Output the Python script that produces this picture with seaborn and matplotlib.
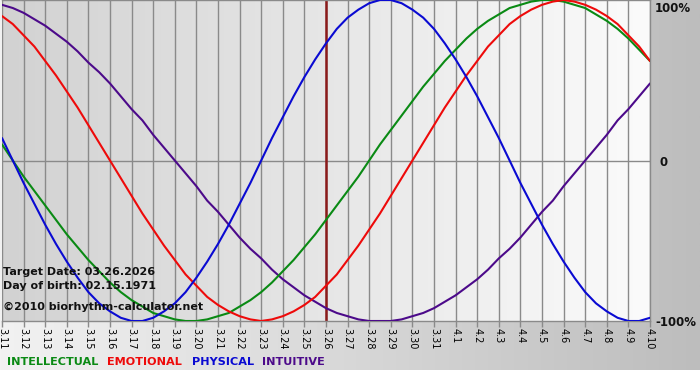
import numpy as np
import pandas as pd
import seaborn as sns
from matplotlib import pyplot as plt
from matplotlib.colors import LinearSegmentedColormap

dates = ["3.11", "3.12", "3.13", "3.14", "3.15", "3.16", "3.17", "3.18", "3.19", "3.20",
         "3.21", "3.22", "3.23", "3.24", "3.25", "3.26", "3.27", "3.28", "3.29", "3.30",
         "3.31", "4.1", "4.2", "4.3", "4.4", "4.5", "4.6", "4.7", "4.8", "4.9", "4.10"]

# values every half day, 3.11 .. 4.10 (-1 = -100%, 1 = 100%)
sample_days = np.arange(0, len(dates) - 0.5, 0.5)
intellectual = [0.10, 0.00, -0.10, -0.19, -0.28, -0.37, -0.46, -0.54, -0.62, -0.69,
                -0.76, -0.82, -0.87, -0.91, -0.95, -0.97, -0.99, -1.00, -1.00, -0.99,
                -0.97, -0.95, -0.91, -0.87, -0.82, -0.76, -0.69, -0.62, -0.54, -0.46,
                -0.37, -0.28, -0.19, -0.10, 0.00, 0.10, 0.19, 0.28, 0.37, 0.46,
                0.54, 0.62, 0.69, 0.76, 0.82, 0.87, 0.91, 0.95, 0.97, 0.99,
                1.00, 1.00, 0.99, 0.97, 0.95, 0.91, 0.87, 0.82, 0.76, 0.69, 0.62]
emotional = [0.90, 0.85, 0.78, 0.71, 0.62, 0.53, 0.43, 0.33, 0.22, 0.11,
             0.00, -0.11, -0.22, -0.33, -0.43, -0.53, -0.62, -0.71, -0.78, -0.85,
             -0.90, -0.94, -0.97, -0.99, -1.00, -0.99, -0.97, -0.94, -0.90, -0.85,
             -0.78, -0.71, -0.62, -0.53, -0.43, -0.33, -0.22, -0.11, 0.00, 0.11,
             0.22, 0.33, 0.43, 0.53, 0.62, 0.71, 0.78, 0.85, 0.90, 0.94,
             0.97, 0.99, 1.00, 0.99, 0.97, 0.94, 0.90, 0.85, 0.78, 0.71, 0.62]
physical = [0.14, 0.00, -0.14, -0.27, -0.40, -0.52, -0.63, -0.73, -0.82, -0.89,
            -0.94, -0.98, -1.00, -1.00, -0.98, -0.94, -0.89, -0.82, -0.73, -0.63,
            -0.52, -0.40, -0.27, -0.14, 0.00, 0.14, 0.27, 0.40, 0.52, 0.63,
            0.73, 0.82, 0.89, 0.94, 0.98, 1.00, 1.00, 0.98, 0.94, 0.89,
            0.82, 0.73, 0.63, 0.52, 0.40, 0.27, 0.14, 0.00, -0.14, -0.27,
            -0.40, -0.52, -0.63, -0.73, -0.82, -0.89, -0.94, -0.98, -1.00, -1.00, -0.98]
intuitive = [0.97, 0.95, 0.92, 0.88, 0.84, 0.79, 0.74, 0.68, 0.61, 0.55,
             0.48, 0.40, 0.32, 0.25, 0.16, 0.08, 0.00, -0.08, -0.16, -0.25,
             -0.32, -0.40, -0.48, -0.55, -0.61, -0.68, -0.74, -0.79, -0.84, -0.88,
             -0.92, -0.95, -0.97, -0.99, -1.00, -1.00, -1.00, -0.99, -0.97, -0.95,
             -0.92, -0.88, -0.84, -0.79, -0.74, -0.68, -0.61, -0.55, -0.48, -0.40,
             -0.32, -0.25, -0.16, -0.08, 0.00, 0.08, 0.16, 0.25, 0.32, 0.40, 0.48]

series_names = ["INTUITIVE", "INTELLECTUAL", "EMOTIONAL", "PHYSICAL"]
colors = {"INTELLECTUAL": "#0a8a14", "EMOTIONAL": "#ee0a0a",
          "PHYSICAL": "#0a0ad2", "INTUITIVE": "#4c0a8a"}
legend_order = ["INTELLECTUAL", "EMOTIONAL", "PHYSICAL", "INTUITIVE"]
legend_x = [7, 107, 192, 262]
target_index = dates.index("3.26")

info_lines = ["Target Date: 03.26.2026", "Day of birth: 02.15.1971", "\u00a92010 biorhythm-calculator.net"]
info_y = [272, 286, 307]

values = {"INTELLECTUAL": intellectual, "EMOTIONAL": emotional,
          "PHYSICAL": physical, "INTUITIVE": intuitive}
df = pd.concat(
    [pd.DataFrame({"day": sample_days, "value": values[name], "series": name})
     for name in series_names],
    ignore_index=True,
)

sns.set_theme(style="white")
plt.rcParams["font.family"] = ["DejaVu Sans"]

W, H = 700, 380
fig = plt.figure(figsize=(W / 100, H / 100), dpi=100)
fig.patch.set_facecolor("white")

# outer background: light on the left, darker on the right
bg = fig.add_axes([0, 10 / H, 1, 370 / H])
bg.axis("off")
outer_cmap = LinearSegmentedColormap.from_list("outer", ["#f2f2f2", "#bdbdbd"])
bg.imshow(np.linspace(0, 1, 256)[None, :], aspect="auto", cmap=outer_cmap, extent=[0, 1, 0, 1])

ax = fig.add_axes([2 / W, 59 / H, 648 / W, 321 / H])
inner_cmap = LinearSegmentedColormap.from_list("inner", ["#d2d2d2", "#fbfbfb"])
ax.imshow(np.linspace(0, 1, 256)[None, :], aspect="auto", cmap=inner_cmap,
          extent=[0, len(dates) - 1, -1, 1], zorder=0)

for i in range(len(dates)):
    ax.axvline(i, color="#8a8a8a", lw=1, zorder=1)
ax.axhline(0, color="#8a8a8a", lw=1, zorder=1)
ax.axvline(target_index, color="#8b1a1a", lw=1.8, zorder=2)

sns.lineplot(data=df, x="day", y="value", hue="series", hue_order=series_names,
             palette=colors, linewidth=1.5, legend=False, sort=False, ax=ax, zorder=3)

ax.set_xlim(0, len(dates) - 1)
ax.set_ylim(-1, 1)
ax.set_xlabel("")
ax.set_ylabel("")
ax.set_yticks([])
ax.set_xticks(range(len(dates)))
ax.set_xticklabels(dates, rotation=270, fontsize=7, color="black")
ax.tick_params(axis="x", length=4, width=1, color="#8a8a8a", pad=1, bottom=True)
for side in ["top", "bottom", "left", "right"]:
    ax.spines[side].set_color("#8a8a8a")
    ax.spines[side].set_linewidth(1)
ax.spines["left"].set_visible(False)

for text, y in zip(["100%", "0", "-100%"], [9, 162, 322]):
    x = 660 if text == "0" else 655
    fig.text(x / W, 1 - y / H, text, fontsize=8.5, fontweight="bold",
             color="#111111", ha="left", va="center")

for text, y in zip(info_lines, info_y):
    fig.text(3 / W, 1 - y / H, text, fontsize=8, fontweight="bold",
             color="#111111", ha="left", va="center")

for name, x in zip(legend_order, legend_x):
    fig.text(x / W, 1 - 362 / H, name, fontsize=8.1, fontweight="bold",
             color=colors[name], ha="left", va="center")

fig.savefig("out.png", dpi=100)
